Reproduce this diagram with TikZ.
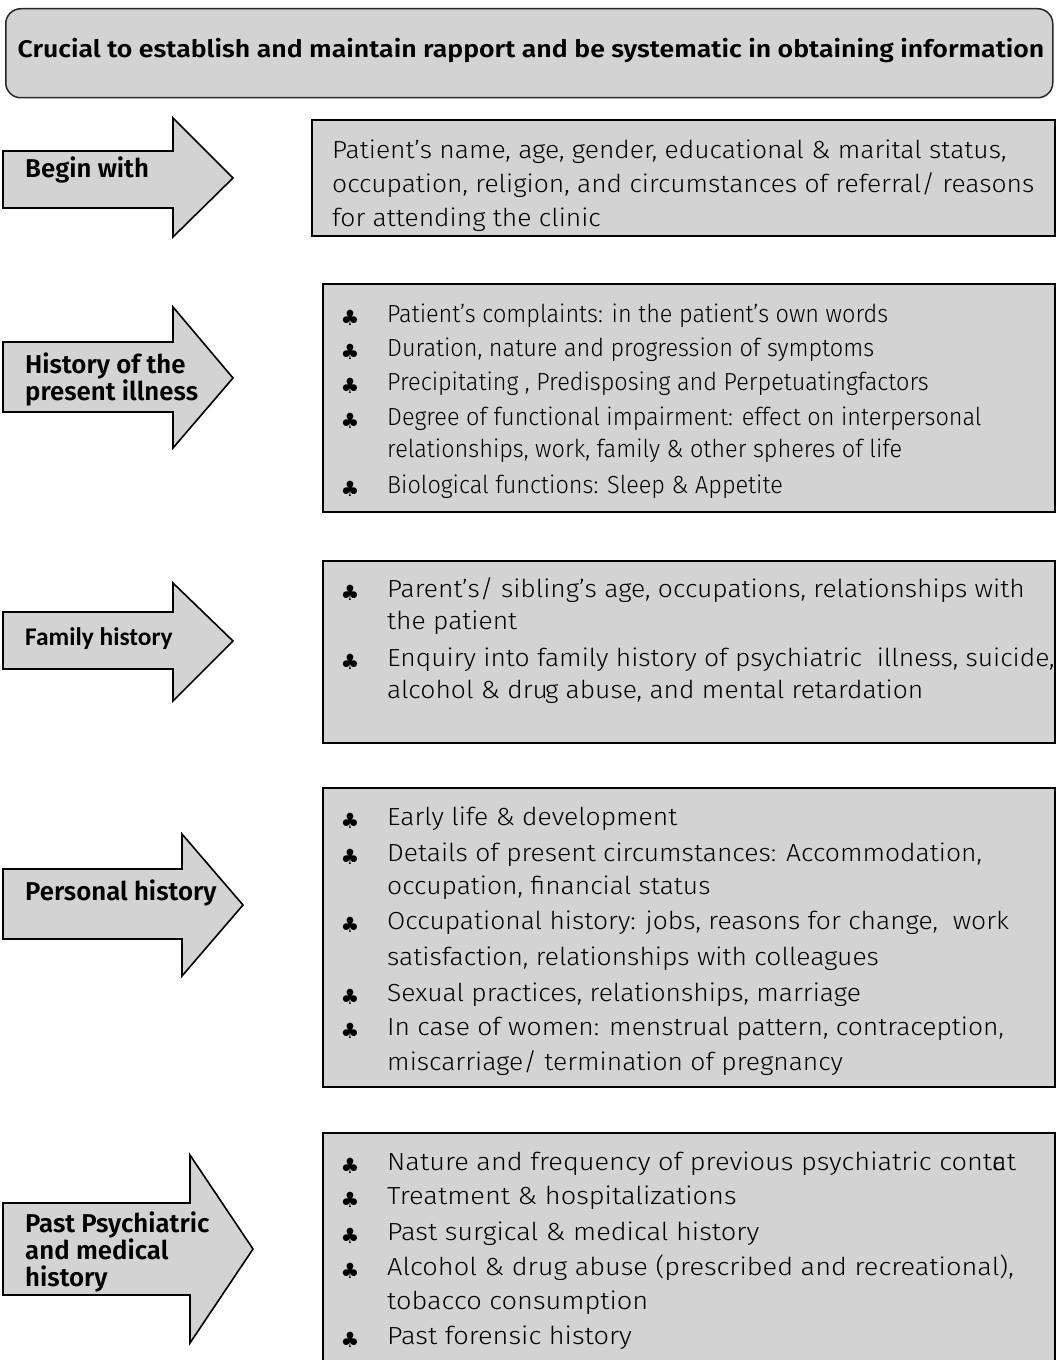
\documentclass[tikz,border=0pt]{standalone}
\usepackage{fontspec}
\newfontfamily\bodyfontA{Fira Sans Light}[FakeStretch=1.07]
\newfontfamily\bodyfontB{Fira Sans Light}[FakeStretch=0.95]
\newfontfamily\bodyfontC{Fira Sans Light}[FakeStretch=1.10]
\newfontfamily\headfont{Fira Sans SemiBold}
\newfontfamily\topfont{Fira Sans SemiBold}[FakeStretch=1.11]
\newfontfamily\calfont{Carlito}
\newfontfamily\symfont{DejaVu Sans}
\definecolor{boxgray}{RGB}{211,211,211}
\begin{document}
\begin{tikzpicture}[x=1bp,y=-1bp,
  panel/.style={draw=black, line width=2.2bp, fill=boxgray, rectangle, inner sep=0, anchor=north west},
  topbox/.style={draw=black!85, line width=1.5bp, fill=boxgray, rectangle, rounded corners=15bp, inner sep=0, anchor=north west},
  arrowshape/.style={draw=black, line width=1.6bp, fill=boxgray, line join=miter},
  bodytext/.style={font=\bodyfontA\fontsize{24.7bp}{34.5bp}\selectfont, anchor=base west, inner sep=0},
  condtext/.style={bodytext, font=\bodyfontB\fontsize{24.7bp}{34.5bp}\selectfont},
  widetext/.style={bodytext, font=\bodyfontC\fontsize{24.7bp}{34.5bp}\selectfont},
  labeltext/.style={font=\headfont\fontsize{25.8bp}{27bp}\selectfont, anchor=base west, inner sep=0},
  famtext/.style={font=\calfont\bfseries\fontsize{25.4bp}{27bp}\selectfont, anchor=base west, inner sep=0},
  toptext/.style={font=\topfont\fontsize{24bp}{26bp}\selectfont, anchor=base, inner sep=0},
  bul/.style={font=\symfont\fontsize{21bp}{21bp}\selectfont, inner sep=0, anchor=center}]
\useasboundingbox (0,0) rectangle (1057,1360);

% top banner
\node[topbox, minimum width=1047bp, minimum height=89bp] (top) at (5,8) {};
\node[toptext] (toptxt) at (531,58) {Crucial to establish and maintain rapport and be systematic in obtaining information};

% arrows
\draw[arrowshape] (3,151) -- (173,151) -- (173,118) -- (233,178) -- (173,237) -- (173,208) -- (3,208) -- cycle;
\draw[arrowshape] (3,342) -- (173,342) -- (173,307) -- (233,378) -- (173,448) -- (173,412) -- (3,412) -- cycle;
\draw[arrowshape] (3,612) -- (173,612) -- (173,583) -- (233,641) -- (173,701) -- (173,669) -- (3,669) -- cycle;
\draw[arrowshape] (3,869) -- (182,869) -- (182,834) -- (243,905) -- (182,976) -- (182,939) -- (3,939) -- cycle;
\draw[arrowshape] (3,1203) -- (190,1203) -- (190,1155) -- (253,1249) -- (190,1343) -- (190,1295) -- (3,1295) -- cycle;

% arrow labels
\node[labeltext] (l1) at (25,178) {Begin with};
\node[labeltext] (l2a) at (25,373) {History of the};
\node[labeltext] (l2b) at (25,400) {present illness};
\node[famtext] (l3) at (25,645) {Family history};
\node[labeltext] (l4) at (25,900) {Personal history};
\node[labeltext] (l5a) at (25,1232) {Past Psychiatric};
\node[labeltext] (l5b) at (25,1259) {and medical};
\node[labeltext] (l5c) at (25,1286) {history};

% panels
\node[panel, minimum width=743bp, minimum height=116bp] (p1) at (311,119) {};
\node[panel, minimum width=732bp, minimum height=228bp] (p2) at (322,283) {};
\node[panel, minimum width=732bp, minimum height=182bp] (p3) at (322,560) {};
\node[panel, minimum width=732bp, minimum height=299bp] (p4) at (322,787) {};
\node[panel, minimum width=732bp, minimum height=240bp] (p5) at (322,1132) {};

% panel 1
\node[bodytext] (p1a) at (332,159) {Patient’s name, age, gender, educational \& marital status,};
\node[bodytext] (p1b) at (332,193) {occupation, religion, and circumstances of referral/ reasons};
\node[bodytext] (p1c) at (332,227) {for attending the clinic};

% panel 2
\node[bul] (u2a) at (350,318) {♣};
\node[condtext] (p2a) at (387,322) {Patient’s complaints: in the patient’s own words};
\node[bul] (u2b) at (350,352) {♣};
\node[condtext] (p2b) at (387,356) {Duration, nature and progression of symptoms};
\node[bul] (u2c) at (350,386) {♣};
\node[condtext] (p2c) at (387,390) {Precipitating , Predisposing and Perpetuatingfactors};
\node[bul] (u2d) at (350,421) {♣};
\node[condtext] (p2d) at (387,425) {Degree of functional impairment: effect on interpersonal};
\node[condtext] (p2d2) at (387,457) {relationships, work, family \& other spheres of life};
\node[bul] (u2e) at (350,489) {♣};
\node[condtext] (p2e) at (387,493) {Biological functions: Sleep \& Appetite};

% panel 3
\node[bul] (u3a) at (350,593) {♣};
\node[bodytext] (p3a) at (387,597) {Parent’s/ sibling’s age, occupations, relationships with};
\node[bodytext] (p3a2) at (387,629) {the patient};
\node[bul] (u3b) at (350,662) {♣};
\node[bodytext] (p3b) at (387,666) {Enquiry into family history of psychiatric\ \ illness, suicide,};
\node[bodytext] (p3b2) at (387,698) {alcohol \& dru\kern-0.12em g abuse, and mental retardation};

% panel 4
\node[bul] (u4a) at (350,821) {♣};
\node[bodytext] (p4a) at (387,825) {Early life \& development};
\node[bul] (u4b) at (350,857) {♣};
\node[bodytext] (p4b) at (387,861) {Details of present circumstances: Accommodation,};
\node[bodytext] (p4b2) at (387,894) {occupation, financial status};
\node[bul] (u4c) at (350,925) {♣};
\node[bodytext] (p4c) at (387,929) {Occupational history: jobs, reasons for change,\ \ work};
\node[bodytext] (p4c2) at (387,965) {satisfaction, relationships with colleagues};
\node[bul] (u4d) at (350,997) {♣};
\node[bodytext] (p4d) at (387,1001) {Sexual practices, relationships, marriage};
\node[bul] (u4e) at (350,1031) {♣};
\node[bodytext] (p4e) at (387,1035) {In case of women: menstrual pattern, contraception,};
\node[bodytext] (p4e2) at (387,1070) {miscarriage/ termination of pregnancy};

% panel 5
\node[bul] (u5a) at (350,1166) {♣};
\node[widetext] (p5a) at (387,1170) {Nature and frequency of previous psychiatric cont\rlap{c}at};
\node[bul] (u5b) at (350,1200) {♣};
\node[widetext] (p5b) at (387,1204) {Treatment \& hospitalizations};
\node[bul] (u5c) at (350,1236) {♣};
\node[widetext] (p5c) at (387,1240) {Past surgical \& medical history};
\node[bul] (u5d) at (350,1271) {♣};
\node[widetext] (p5d) at (387,1275) {Alcohol \& drug abuse (prescribed and recreational),};
\node[widetext] (p5d2) at (387,1309) {tobacco consumption};
\node[bul] (u5e) at (350,1340) {♣};
\node[widetext] (p5e) at (387,1344) {Past forensic history};
\end{tikzpicture}
\end{document}
